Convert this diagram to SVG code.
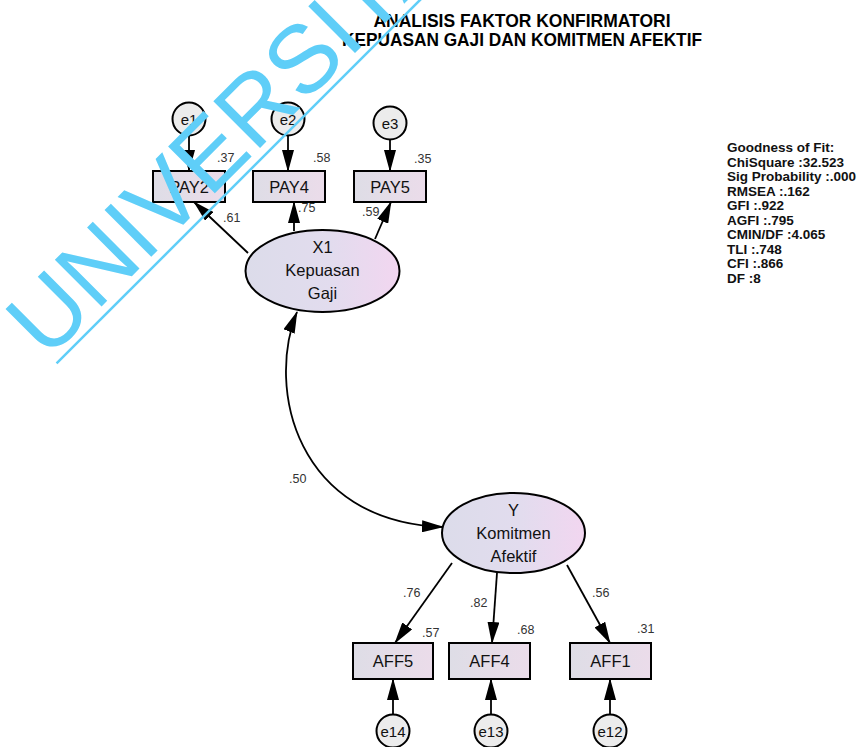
<svg xmlns="http://www.w3.org/2000/svg" width="860" height="747" viewBox="0 0 860 747">
  <defs>
    <linearGradient id="latentFill" x1="0" y1="0" x2="1" y2="0">
      <stop offset="0" stop-color="#dcdcea"/>
      <stop offset="0.55" stop-color="#e2dcee"/>
      <stop offset="1" stop-color="#f2d6f0"/>
    </linearGradient>
    <linearGradient id="boxFill" x1="0" y1="0" x2="1" y2="0">
      <stop offset="0" stop-color="#dedde6"/>
      <stop offset="1" stop-color="#ebdcea"/>
    </linearGradient>
    <marker id="head" markerUnits="userSpaceOnUse" markerWidth="22" markerHeight="12" refX="21" refY="6" orient="auto-start-reverse">
      <path d="M0,0 L22,6 L0,12 z" fill="#000"/>
    </marker>
    <style>
      text { font-family: "Liberation Sans", Arial, sans-serif; }
      .title { font-size: 18px; font-weight: bold; fill: #000; text-anchor: middle; }
      .fit { font-size: 13.5px; font-weight: bold; fill: #111; }
      .lbl { font-size: 16.5px; fill: #111; text-anchor: middle; }
      .err { font-size: 15px; fill: #111; text-anchor: middle; }
      .val { font-size: 12.5px; fill: #333; }
      .obs { fill: url(#boxFill); stroke: #000; stroke-width: 2; }
      .lat { fill: url(#latentFill); stroke: #000; stroke-width: 2; }
      .res { fill: #ececec; stroke: #000; stroke-width: 2; }
      .path { fill: none; stroke: #000; stroke-width: 1.8; marker-end: url(#head); }
      .cov { fill: none; stroke: #000; stroke-width: 1.8; marker-start: url(#head); marker-end: url(#head); }
      .wm { font-size: 96px; fill: #5fcef8; }
    </style>
  </defs>

  <rect width="860" height="747" fill="#ffffff"/>

  <!-- heading -->
  <g id="title">
    <text class="title" x="522" y="27" textLength="297" lengthAdjust="spacingAndGlyphs">ANALISIS FAKTOR KONFIRMATORI</text>
    <text class="title" x="522" y="46" textLength="360" lengthAdjust="spacingAndGlyphs">KEPUASAN GAJI DAN KOMITMEN AFEKTIF</text>
  </g>

  <!-- fit statistics -->
  <g id="fit">
    <text class="fit" x="727" y="152">Goodness of Fit:</text>
    <text class="fit" x="727" y="166.5">ChiSquare :32.523</text>
    <text class="fit" x="727" y="181">Sig Probability :.000</text>
    <text class="fit" x="727" y="195.5">RMSEA :.162</text>
    <text class="fit" x="727" y="210">GFI :.922</text>
    <text class="fit" x="727" y="224.5">AGFI :.795</text>
    <text class="fit" x="727" y="239">CMIN/DF :4.065</text>
    <text class="fit" x="727" y="253.5">TLI :.748</text>
    <text class="fit" x="727" y="268">CFI :.866</text>
    <text class="fit" x="727" y="282.5">DF :8</text>
  </g>

  <!-- connectors -->
  <g id="connectors">
    <line class="path" x1="189" y1="135" x2="189" y2="171"/>
    <line class="path" x1="288" y1="135" x2="288" y2="171"/>
    <line class="path" x1="390" y1="140" x2="390" y2="171"/>
    <line class="path" x1="248" y1="253" x2="194" y2="202"/>
    <line class="path" x1="294" y1="231" x2="294" y2="202"/>
    <line class="path" x1="375" y1="239" x2="391" y2="202"/>
    <path class="cov" d="M297,312 C266,388 296,522 443,527"/>
    <line class="path" x1="452" y1="563" x2="395" y2="643"/>
    <line class="path" x1="497" y1="573" x2="492" y2="643"/>
    <line class="path" x1="567" y1="565" x2="610" y2="643"/>
    <line class="path" x1="393" y1="715" x2="393" y2="679"/>
    <line class="path" x1="491" y1="715" x2="491" y2="679"/>
    <line class="path" x1="610" y1="715" x2="610" y2="679"/>
  </g>

  <!-- error terms, indicators -->
  <g id="e1"><circle class="res" cx="189" cy="119" r="16.5"/><text class="err" x="189" y="124.5">e1</text></g>
  <g id="e2"><circle class="res" cx="288" cy="119" r="16.5"/><text class="err" x="288" y="124.5">e2</text></g>
  <g id="e3"><circle class="res" cx="390" cy="123" r="16.5"/><text class="err" x="390" y="128.5">e3</text></g>

  <g id="PAY2"><rect class="obs" x="153" y="171" width="72" height="31"/><text class="lbl" x="189" y="192.5">PAY2</text><text class="val" x="217" y="162">.37</text></g>
  <g id="PAY4"><rect class="obs" x="253" y="171" width="72" height="31"/><text class="lbl" x="289" y="192.5">PAY4</text><text class="val" x="313" y="162">.58</text></g>
  <g id="PAY5"><rect class="obs" x="354" y="171" width="72" height="31"/><text class="lbl" x="390" y="192.5">PAY5</text><text class="val" x="414" y="163">.35</text></g>

  <g id="X1">
    <ellipse class="lat" cx="322.5" cy="271" rx="77" ry="41"/>
    <text class="lbl" x="322.5" y="253">X1</text>
    <text class="lbl" x="322.5" y="276">Kepuasan</text>
    <text class="lbl" x="322.5" y="298.5">Gaji</text>
  </g>

  <g id="Y">
    <ellipse class="lat" cx="513.5" cy="533" rx="71.5" ry="40"/>
    <text class="lbl" x="513.5" y="516">Y</text>
    <text class="lbl" x="513.5" y="539">Komitmen</text>
    <text class="lbl" x="513.5" y="561.5">Afektif</text>
  </g>

  <g id="AFF5"><rect class="obs" x="353" y="643" width="80" height="36"/><text class="lbl" x="393" y="667">AFF5</text><text class="val" x="422" y="637">.57</text></g>
  <g id="AFF4"><rect class="obs" x="449" y="643" width="81" height="36"/><text class="lbl" x="489.5" y="667">AFF4</text><text class="val" x="517" y="634">.68</text></g>
  <g id="AFF1"><rect class="obs" x="570" y="643" width="81" height="36"/><text class="lbl" x="610.5" y="667">AFF1</text><text class="val" x="637" y="633">.31</text></g>

  <g id="e14"><circle class="res" cx="393" cy="731" r="16.5"/><text class="err" x="393" y="736.5">e14</text></g>
  <g id="e13"><circle class="res" cx="491" cy="731" r="16.5"/><text class="err" x="491" y="736.5">e13</text></g>
  <g id="e12"><circle class="res" cx="610" cy="731" r="16.5"/><text class="err" x="610" y="736.5">e12</text></g>

  <!-- path coefficients -->
  <g id="coefficients">
    <text class="val" x="223" y="222">.61</text>
    <text class="val" x="298" y="212">.75</text>
    <text class="val" x="362" y="216">.59</text>
    <text class="val" x="289" y="483">.50</text>
    <text class="val" x="403" y="597">.76</text>
    <text class="val" x="470" y="607">.82</text>
    <text class="val" x="592" y="597">.56</text>
  </g>

  <!-- watermark -->
  <g id="watermark" transform="translate(47,361) rotate(-45)">
    <text class="wm" x="0" y="0">UNIVERSITA</text>
    <line x1="5" y1="8.5" x2="560" y2="8.5" stroke="#5fcef8" stroke-width="2.5"/>
  </g>
</svg>
